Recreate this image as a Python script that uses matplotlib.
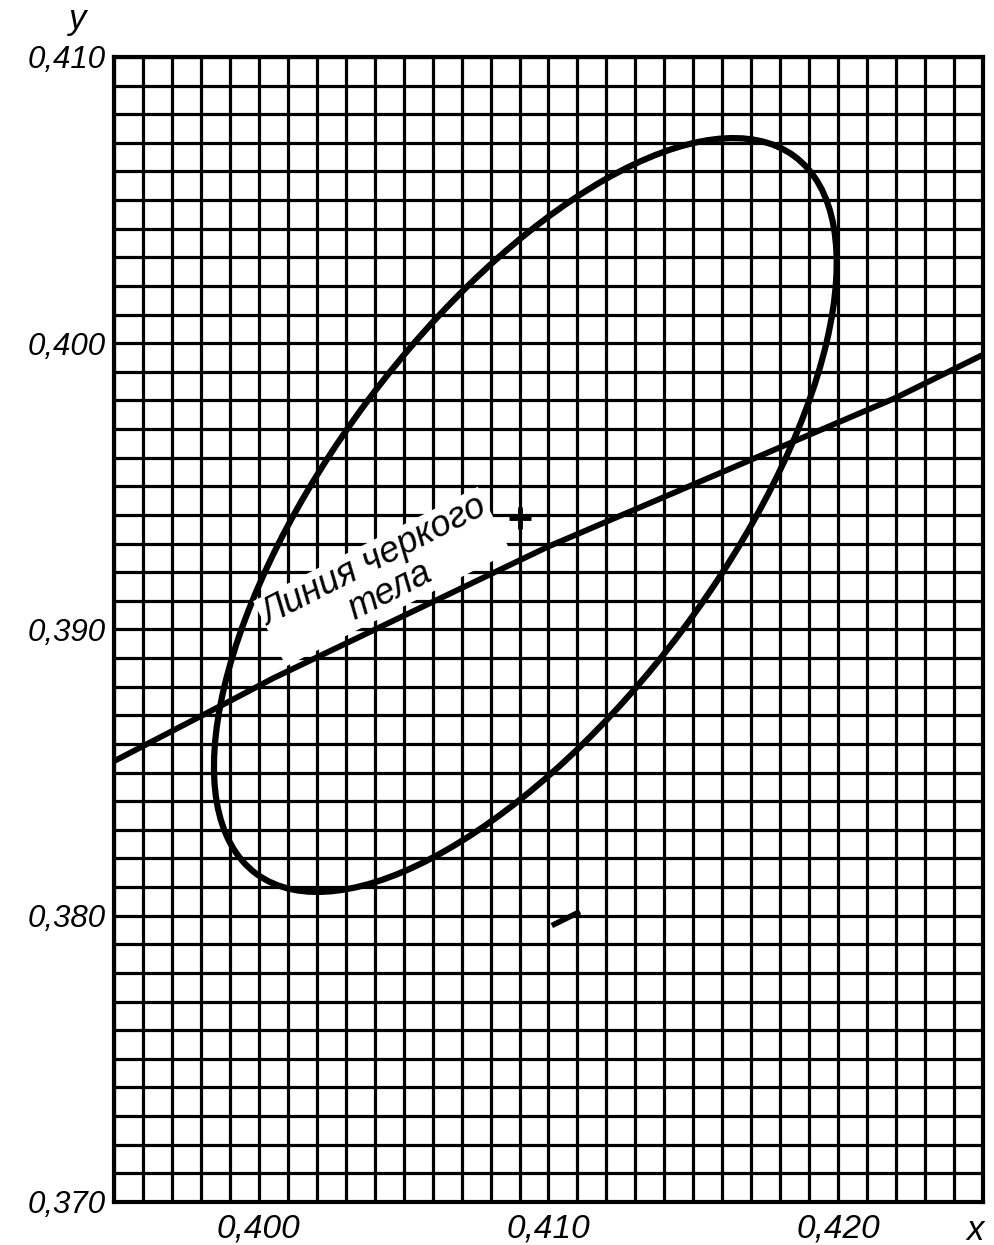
import matplotlib.pyplot as plt
import numpy as np
from matplotlib.patches import Ellipse

# пределы поля
x_min, x_max = 0.395, 0.425
y_min, y_max = 0.370, 0.410

x_ticks = [0.400, 0.410, 0.420]
x_labels = ['0,400', '0,410', '0,420']
y_ticks = [0.370, 0.380, 0.390, 0.400, 0.410]
y_labels = ['0,370', '0,380', '0,390', '0,400', '0,410']

# линия черного тела
locus_x = [0.3950, 0.3990, 0.4005, 0.4100, 0.4220, 0.4250]
locus_y = [0.3854, 0.3875, 0.3883, 0.3929, 0.3981, 0.3996]

# эллипс
ell_center = (0.4092, 0.3940)
ell_width = 0.0312
ell_height = 0.0135
ell_angle = 53.5

# центр эллипса
cross_x = [0.4090]
cross_y = [0.3939]

# черточка внизу
dash_x = [0.4102, 0.4110]
dash_y = [0.3797, 0.3801]

plt.rcParams['font.family'] = ['Liberation Sans', 'DejaVu Sans']

fig = plt.figure(figsize=(9.95, 12.45), dpi=100)
ax = fig.add_axes([114 / 995, 1 - 1202 / 1245, 869 / 995, 1145 / 1245])

ax.set_xlim(x_min, x_max)
ax.set_ylim(y_min, y_max)

ax.set_xticks(np.arange(0.395, 0.4251, 0.001), minor=True)
ax.set_yticks(np.arange(0.370, 0.4101, 0.001), minor=True)
ax.set_xticks(x_ticks)
ax.set_xticklabels(x_labels, fontsize=24, style='italic')
ax.set_yticks(y_ticks)
ax.set_yticklabels(y_labels, fontsize=22.5, style='italic')
ax.tick_params(which='both', length=0)
ax.tick_params(axis='x', pad=8)
ax.tick_params(axis='y', pad=6)
ax.grid(which='both', color='black', linewidth=2.3)
ax.set_axisbelow(True)
for s in ax.spines.values():
    s.set_linewidth(3)

ax.plot(locus_x, locus_y, color='black', linewidth=4.2, zorder=3)
ax.add_patch(Ellipse(ell_center, ell_width, ell_height, angle=ell_angle,
                     fill=False, edgecolor='black', linewidth=4.5, zorder=3))
ax.plot(cross_x, cross_y, marker='+', color='black', markersize=16, mew=3.5, zorder=4)
ax.plot(dash_x, dash_y, color='black', linewidth=4, zorder=3)

ax.text(0.40425, 0.39185, 'Линия черкого\nтела', fontsize=26, style='italic',
        rotation=27, rotation_mode='anchor', ha='center', va='center',
        multialignment='center', linespacing=0.95, zorder=5,
        bbox=dict(facecolor='white', edgecolor='none', pad=1.5))

fig.text(78 / 995, 1 - 20 / 1245, 'y', fontsize=25, style='italic', ha='center', va='center')
fig.text(975 / 995, 1 - 1230 / 1245, 'x', fontsize=25, style='italic', ha='center', va='center')

fig.savefig('out.png', dpi=100)
